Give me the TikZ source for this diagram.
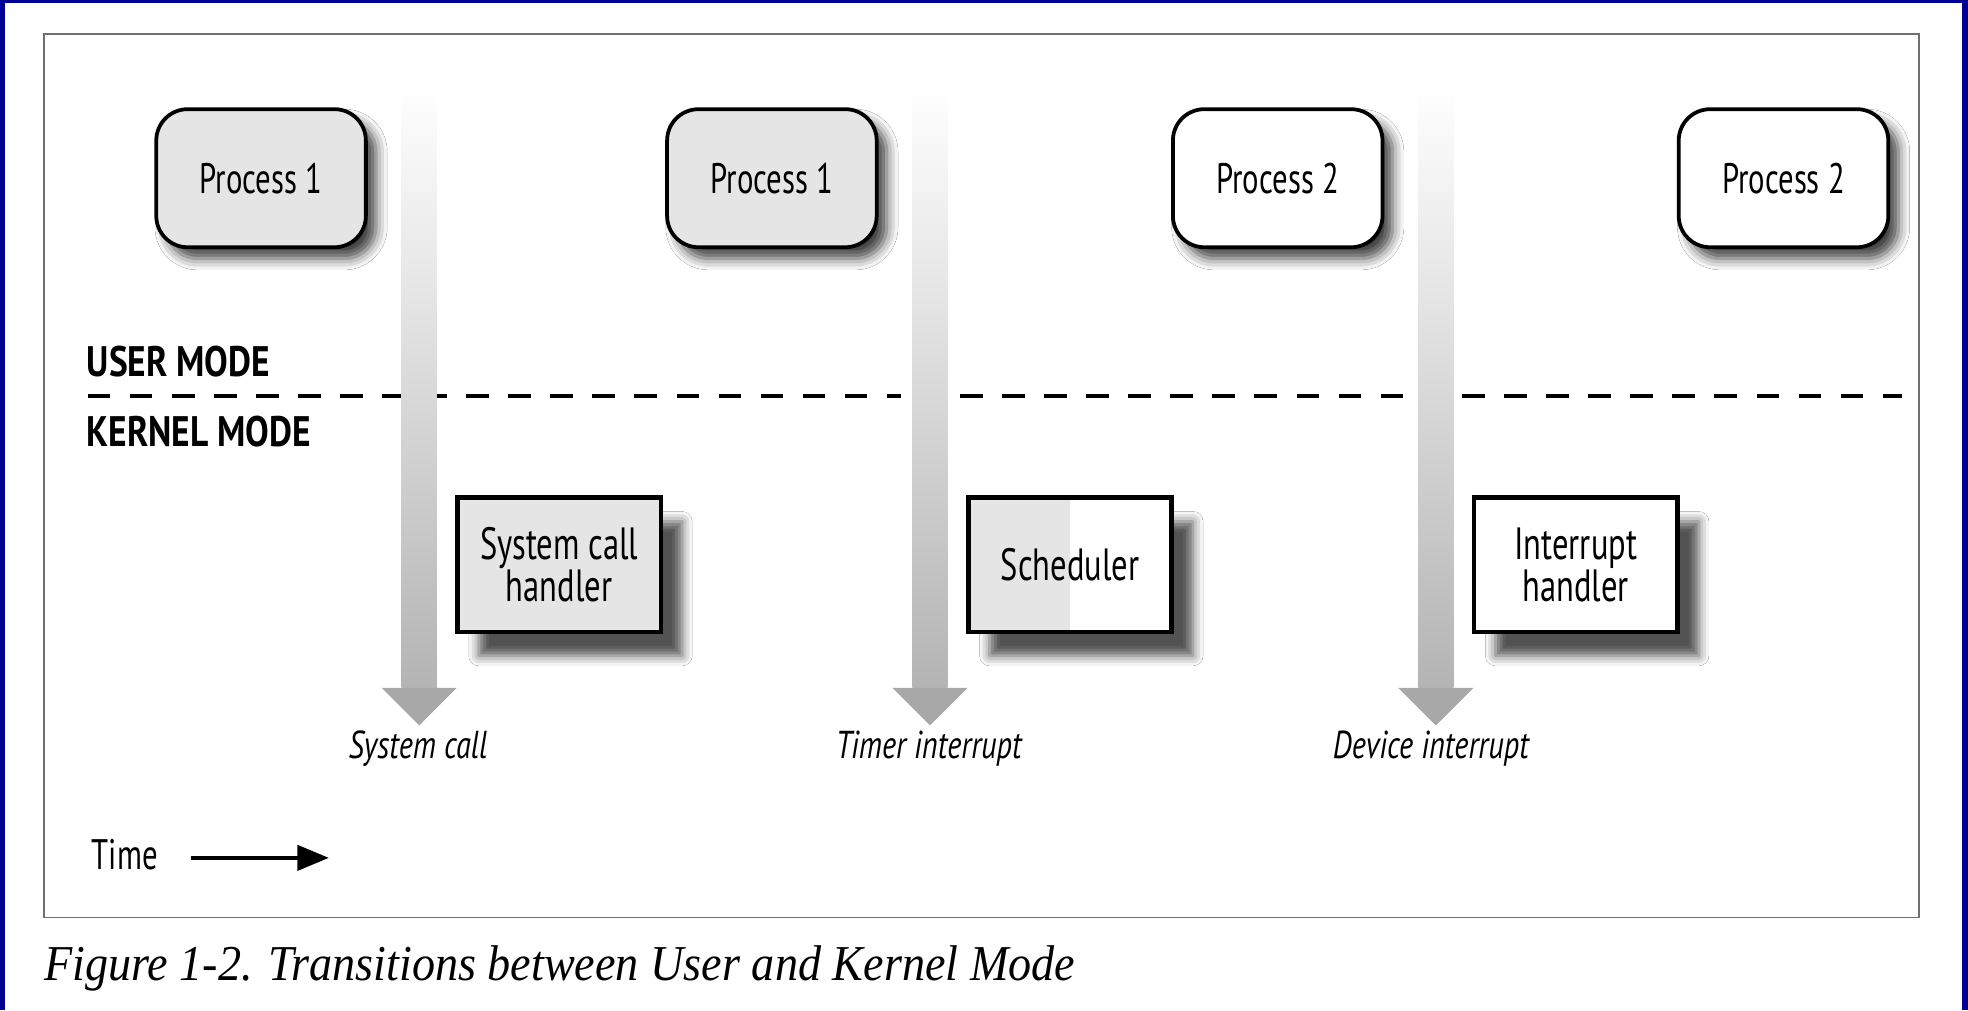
\documentclass[tikz,border=0pt]{standalone}
\usepackage{fontspec}
\setmainfont{Liberation Serif}
\setsansfont{PT Sans}[FakeStretch=0.72]
\newfontfamily\boldlab{PT Sans Bold}[FakeStretch=0.83]
\newfontfamily\itlab{PT Sans Italic}[FakeStretch=0.78]
\newfontfamily\capfont{Liberation Serif Italic}[FakeStretch=0.92]
\usetikzlibrary{shadows.blur,arrows.meta}
\definecolor{navy}{RGB}{0,0,150}
\definecolor{boxgray}{HTML}{E5E5E5}
\definecolor{arrowgray}{HTML}{A8A8A8}
\definecolor{shaftgray}{HTML}{B4B4B4}
\definecolor{framegray}{HTML}{707070}
\tikzset{
  procbox/.style={draw=black, line width=3pt, rounded corners=25pt,
    minimum width=167pt, minimum height=110pt, inner sep=0pt,
    font=\sffamily\fontsize{34}{34}\selectfont,
    blur shadow={shadow xshift=8pt, shadow yshift=-9pt, shadow blur radius=9pt, shadow opacity=75}},
  kernbox/.style={draw=black, line width=3.5pt,
    minimum width=162pt, minimum height=107pt, inner sep=0pt, align=center,
    font=\sffamily\fontsize{36}{34}\selectfont,
    blur shadow={shadow xshift=17pt, shadow yshift=-19pt, shadow blur radius=8pt, shadow opacity=68}},
  modelabel/.style={anchor=base west, inner sep=0pt, font=\boldlab\fontsize{34}{34}\selectfont},
  evlabel/.style={anchor=base, inner sep=0pt, font=\itlab\fontsize{31}{31}\selectfont},
  modeline/.style={line width=3.5pt, dash pattern=on 18pt off 15.5pt},
  timearrow/.style={line width=3pt, -{Triangle[length=25pt,width=20pt]}},
}
\newcommand{\timebar}[2]{% #1 name prefix, #2 center x
  \coordinate (#1top) at (#2,-68);
  \coordinate (#1bot) at (#2,-548);
  \coordinate (#1tip) at (#2,-578);
  \shade[top color=white, bottom color=shaftgray] ([xshift=-14pt]#1top) rectangle ([xshift=14pt]#1bot);
  \fill[arrowgray] ([xshift=-30pt]#1bot) -- ([xshift=30pt]#1bot) -- (#1tip) -- cycle;
}
\begin{document}
\begin{tikzpicture}[x=1pt,y=1pt]
\useasboundingbox (0,0) rectangle (1568,-805);
\fill[white] (0,0) rectangle (1568,-805);
\fill[navy] (0,0) rectangle (4,-805);
\fill[navy] (1563,0) rectangle (1568,-805);
\fill[navy] (0,0) rectangle (1568,-2);
% frame
\draw[framegray, line width=1.5pt] (35,-27) rectangle (1529,-731);
% mode labels and line
\node[modelabel] (user) at (69,-300) {USER MODE};
\node[modelabel] (kernel) at (69,-356) {KERNEL MODE};
\coordinate (d1a) at (70,-315.5);
\coordinate (d1b) at (718,-315.5);
\coordinate (d2a) at (765,-315.5);
\coordinate (d2b) at (1118,-315.5);
\coordinate (d3a) at (1165,-315.5);
\coordinate (d3b) at (1515,-315.5);
\draw[modeline] (d1a) -- (d1b);
\draw[modeline] (d2a) -- (d2b);
\draw[modeline] (d3a) -- (d3b);
% processes
\node[procbox, fill=boxgray] (p1a) at (208,-142) {Process 1};
\node[procbox, fill=boxgray] (p1b) at (615,-142) {Process 1};
\node[procbox, fill=white] (p2a) at (1018,-142) {Process 2};
\node[procbox, fill=white] (p2b) at (1421,-142) {Process 2};
% time bars
\timebar{a}{334}
\timebar{b}{741}
\timebar{c}{1144}
% kernel boxes
\node[kernbox, fill=boxgray] (sch) at (445.5,-450) {System call\\handler};
\node[kernbox, fill=white, path picture={\fill[boxgray] (path picture bounding box.south west) rectangle (path picture bounding box.north);}] (sched) at (852.5,-450) {Scheduler};
\node[kernbox, fill=white] (inth) at (1255.5,-450) {Interrupt\\handler};
% event labels
\node[evlabel] (ev1) at (333,-604) {System call};
\node[evlabel] (ev2) at (740,-604) {Timer interrupt};
\node[evlabel] (ev3) at (1140,-604) {Device interrupt};
% time
\node[anchor=base west, inner sep=0pt, font=\sffamily\fontsize{34}{34}\selectfont] (time) at (73,-693) {Time};
\coordinate (tstart) at (152,-683.5);
\coordinate (tend) at (262,-683.5);
\draw[timearrow] (tstart) -- (tend);
% caption
\node[anchor=base west, inner sep=0pt, font=\capfont\fontsize{40}{40}\selectfont] (caption) at (35,-781) {Figure 1-2. Transitions between User and Kernel Mode};
\end{tikzpicture}
\end{document}
